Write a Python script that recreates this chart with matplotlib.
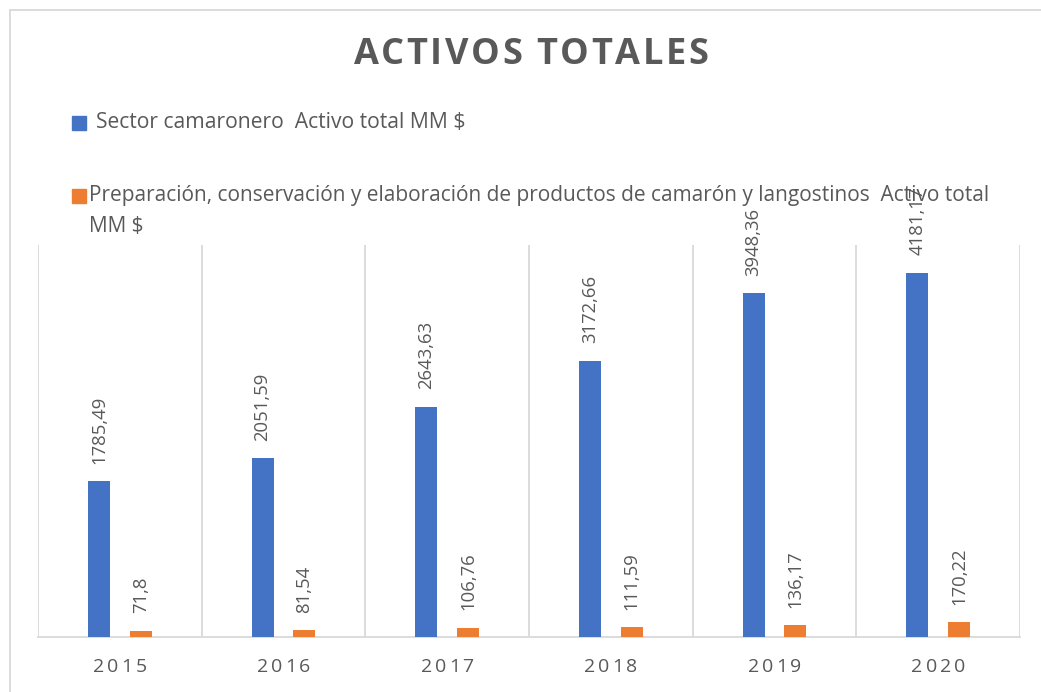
import matplotlib
matplotlib.use("Agg")
import matplotlib.pyplot as plt
from matplotlib.patches import Rectangle

years = ["2015", "2016", "2017", "2018", "2019", "2020"]
sector = [1785.49, 2051.59, 2643.63, 3172.66, 3948.36, 4181.17]
sector_labels = ["1785,49", "2051,59", "2643,63", "3172,66", "3948,36", "4181,17"]
prep = [71.8, 81.54, 106.76, 111.59, 136.17, 170.22]
prep_labels = ["71,8", "81,54", "106,76", "111,59", "136,17", "170,22"]
series_names = ["Sector camaronero  Activo total MM $",
                "Preparación, conservación y elaboración de productos de camarón y langostinos  Activo total\nMM $"]
title = "ACTIVOS TOTALES"

BLUE = "#4472C4"
ORANGE = "#ED7D31"
GRAY = "#595959"
GRID = "#D9D9D9"
FONT = "Open Sans"

W, H = 1041, 692
fig = plt.figure(figsize=(W / 100, H / 100), dpi=100)
plt.rcParams['font.family'] = [FONT, 'DejaVu Sans']

def fx(px):
    return px / W

def fy(py):
    return 1 - py / H

# outer border
fig.patches.append(Rectangle((fx(9.5), fy(720)), fx(1100), fy(9.5) - fy(720),
                             transform=fig.transFigure, fill=False,
                             edgecolor=GRID, linewidth=1.3))

ax = fig.add_axes([fx(38), fy(637), fx(1020) - fx(38), fy(245) - fy(637)])
x = list(range(len(years)))
off = 0.128
bw = 0.134
b1 = ax.bar([i - off for i in x], sector, width=bw, color=BLUE, zorder=3)
b2 = ax.bar([i + off for i in x], prep, width=bw, color=ORANGE, zorder=3)
ax.set_xlim(-0.5, len(years) - 0.5)
ax.set_ylim(0, 4500)
for s in ["top", "right", "left"]:
    ax.spines[s].set_visible(False)
ax.spines["bottom"].set_color(GRID)
ax.spines["bottom"].set_linewidth(1.3)
ax.set_yticks([])
ax.set_xticks([i + 0.5 for i in range(-1, len(years))], minor=False)
ax.tick_params(axis="x", length=0, labelbottom=False)
ax.grid(axis="x", color=GRID, linewidth=1.3, zorder=0)

for bars, labs in ((b1, sector_labels), (b2, prep_labels)):
    for rect, lab in zip(bars, labs):
        ax.annotate(lab, (rect.get_x() + rect.get_width() / 2, rect.get_height()),
                    xytext=(0, 12.5), textcoords="offset points", rotation=90,
                    ha="center", va="bottom", fontsize=13.3, color=GRAY,
                    fontfamily=FONT, zorder=4)

fig.canvas.draw()
renderer = fig.canvas.get_renderer()

def spaced_text(cx_px, cy_px, s, spacing_px, **kw):
    widths = []
    for ch in s:
        t = fig.text(0, 0, ch, **kw)
        bb = t.get_window_extent(renderer)
        if ch == " ":
            t2 = fig.text(0, 0, "a a", **kw)
            t3 = fig.text(0, 0, "aa", **kw)
            w = t2.get_window_extent(renderer).width - t3.get_window_extent(renderer).width
            t2.remove(); t3.remove()
        else:
            w = bb.width
        widths.append(w)
        t.remove()
    total = sum(widths) + spacing_px * (len(s) - 1)
    xpos = cx_px - total / 2
    for ch, w in zip(s, widths):
        if ch != " ":
            fig.text(fx(xpos), fy(cy_px), ch, ha="left", va="center", **kw)
        xpos += w + spacing_px

# title
spaced_text(531, 55, title, 2.6, fontsize=26, fontweight="bold", color=GRAY, fontfamily=FONT)

# x tick labels
for i, yr in enumerate(years):
    px = ax.transData.transform((i, 0))[0]
    spaced_text(px, 667, yr, 2.8, fontsize=14, color=GRAY, fontfamily=FONT)

# legend
fig.patches.append(Rectangle((fx(72), fy(130)), fx(14), fy(116) - fy(130),
                             transform=fig.transFigure, color=BLUE))
fig.text(fx(96), fy(123), series_names[0], ha="left", va="center",
         fontsize=15.2, color=GRAY, fontfamily=FONT)
fig.patches.append(Rectangle((fx(72), fy(203)), fx(14), fy(189) - fy(203),
                             transform=fig.transFigure, color=ORANGE))
fig.text(fx(89), fy(185), series_names[1], ha="left", va="top",
         fontsize=15, color=GRAY, fontfamily=FONT, linespacing=1.6)

fig.savefig("out.png", dpi=100)
